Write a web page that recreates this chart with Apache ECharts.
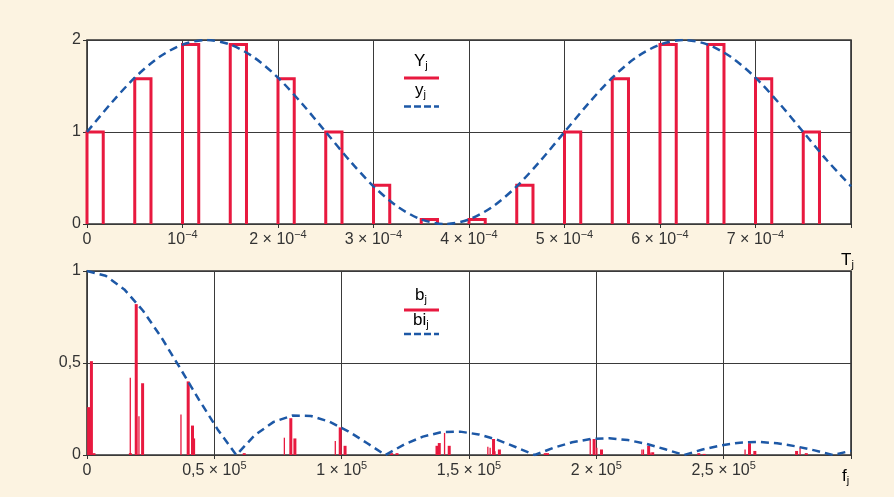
<!DOCTYPE html>
<html>
<head>
<meta charset="utf-8">
<script src="https://cdn.jsdelivr.net/npm/echarts@6/dist/echarts.min.js"></script>
<style>
  html, body { margin: 0; padding: 0; background: #fcf3e1; }
  #chart { width: 894px; height: 497px; }
</style>
</head>
<body>
<div id="chart"></div>
<script>
// ---- top panel: sampled signal (time in units of 1e-4 s) ----
const sampleT = [0, 0.5, 1, 1.5, 2, 2.5, 3, 3.5, 4, 4.5, 5, 5.5, 6, 6.5, 7, 7.5];
const sampleY = [1, 1.58, 1.95, 1.95, 1.58, 1, 0.42, 0.05, 0.05, 0.42, 1, 1.58, 1.95, 1.95, 1.58, 1];
const holdWidth = 0.17;
const curveT = [0, 0.25, 0.5, 0.75, 1, 1.25, 1.5, 1.75, 2, 2.25, 2.5, 2.75, 3, 3.25, 3.5, 3.75, 4,
  4.25, 4.5, 4.75, 5, 5.25, 5.5, 5.75, 6, 6.25, 6.5, 6.75, 7, 7.25, 7.5, 7.75, 8];
const curveY = [1, 1.31, 1.59, 1.81, 1.95, 2, 1.95, 1.81, 1.59, 1.31, 1, 0.69, 0.41, 0.19, 0.05, 0, 0.05,
  0.19, 0.41, 0.69, 1, 1.31, 1.59, 1.81, 1.95, 2, 1.95, 1.81, 1.59, 1.31, 1, 0.69, 0.41];
const topTicks = [0, 1, 2, 3, 4, 5, 6, 7];

// ---- bottom panel: spectrum (frequency in kHz) ----
const specF = [0.3, 1.4, 2.4, 16.7, 19.0, 21.5, 39.4, 41.1, 61.4, 79.7, 81.3, 99.1, 101.0,
  119.3, 121.4, 137.1, 138.0, 141.9, 159.3, 161.6, 179.6, 180.5, 198.8, 201.7, 220.2, 221.8,
  239.9, 242.0, 259.8, 261.9, 278.3, 282.1];
const specB = [0.26, 0.51, 0.01, 0.01, 0.82, 0.39, 0.40, 0.16, 0.01, 0.20, 0.09, 0.15, 0.05,
  0.01, 0.01, 0.05, 0.065, 0.05, 0.087, 0.03, 0.01, 0.01, 0.087, 0.03, 0.05, 0.015,
  0.01, 0.006, 0.064, 0.022, 0.022, 0.01];
const thinF = [17.0, 20.4, 36.9, 42.2, 77.5, 97.5, 140.4, 157.4, 158.3, 160.2, 197.6, 200.2,
  217.9, 218.5, 221.1, 258.4, 280.0];
const thinB = [0.42, 0.21, 0.22, 0.09, 0.094, 0.076, 0.12, 0.045, 0.04, 0.02, 0.087, 0.04,
  0.03, 0.03, 0.013, 0.03, 0.04];
const envF = [0, 7.3, 14.65, 22.0, 29.3, 36.6, 44.0, 51.3, 58.6, 65.9, 73.3, 80.6, 87.9, 95.2,
  102.6, 109.9, 117.2, 124.5, 131.9, 139.2, 146.5, 153.8, 161.2, 168.5, 175.8, 183.1, 190.5,
  197.8, 205.1, 212.4, 219.8, 227.1, 234.4, 241.7, 249.1, 256.4, 263.7, 271.0, 278.4, 285.7,
  293.0, 300];
const envB = [1, 0.974, 0.900, 0.784, 0.637, 0.471, 0.300, 0.139, 0, 0.108, 0.180, 0.214, 0.212,
  0.181, 0.129, 0.065, 0, 0.057, 0.100, 0.124, 0.127, 0.112, 0.082, 0.042, 0, 0.039, 0.069,
  0.087, 0.091, 0.081, 0.060, 0.031, 0, 0.030, 0.053, 0.067, 0.071, 0.064, 0.047, 0.025, 0,
  0.023];
const botTicks = ["0", "0,5", "1", "1,5", "2", "2,5"];

const RED = "#e8193f";
const BLUE = "#1d58a6";
const INK = "#333";
const FONT = "'Liberation Sans', Arial, sans-serif";

const zip = (a, b) => a.map((v, i) => [v, b[i]]);

const richNum = {
  n: { fontSize: 16, color: INK, fontFamily: FONT, lineHeight: 22 },
  s: { fontSize: 11, color: INK, fontFamily: FONT, lineHeight: 10, verticalAlign: "top" },
  b: { fontSize: 17, color: INK, fontFamily: FONT, lineHeight: 19 },
  j: { fontSize: 11, color: INK, fontFamily: FONT, lineHeight: 8, verticalAlign: "bottom" },
};

const gridStyle = { show: true, lineStyle: { color: "#3a3a3a", width: 1 } };

const chart = echarts.init(document.getElementById("chart"), null, { renderer: "canvas" });

chart.setOption({
  backgroundColor: "#fcf3e1",
  animation: false,
  grid: [
    { left: 87, right: 43, top: 40, height: 184, show: true, backgroundColor: "#fff",
      borderColor: INK, borderWidth: 1.6 },
    { left: 87, right: 43, top: 271, height: 184, show: true, backgroundColor: "#fff",
      borderColor: INK, borderWidth: 1.6 },
  ],
  xAxis: [
    {
      type: "value", gridIndex: 0, min: 0, max: 8, interval: 1,
      axisLine: { show: false }, splitLine: gridStyle,
      axisTick: { show: true, length: 4, lineStyle: { color: INK } },
      axisLabel: {
        margin: 5, rich: richNum,
        formatter: (v) => {
          if (!topTicks.includes(v)) return "";
          if (v === 0) return "{n|0}";
          if (v === 1) return "{n|10}{s|−4}";
          return "{n|" + v + " × 10}{s|−4}";
        },
      },
    },
    {
      type: "value", gridIndex: 1, min: 0, max: 300, interval: 50,
      axisLine: { show: false }, splitLine: gridStyle,
      axisTick: { show: true, length: 4, lineStyle: { color: INK } },
      axisLabel: {
        margin: 5, rich: richNum,
        formatter: (v) => {
          const t = botTicks[v / 50];
          if (t === undefined) return "";
          if (t === "0") return "{n|0}";
          return "{n|" + t + " × 10}{s|5}";
        },
      },
    },
  ],
  yAxis: [
    {
      type: "value", gridIndex: 0, min: 0, max: 2, interval: 1,
      axisLine: { show: false }, splitLine: gridStyle,
      axisTick: { show: true, length: 4, lineStyle: { color: INK } },
      axisLabel: { margin: 6, fontSize: 16, color: INK, fontFamily: FONT },
    },
    {
      type: "value", gridIndex: 1, min: 0, max: 1, interval: 0.5,
      axisLine: { show: false }, splitLine: gridStyle,
      axisTick: { show: true, length: 4, lineStyle: { color: INK } },
      axisLabel: { margin: 6, fontSize: 16, color: INK, fontFamily: FONT,
        formatter: (v) => String(v).replace(".", ",") },
    },
  ],
  series: [
    {
      name: "Y_j", type: "custom", xAxisIndex: 0, yAxisIndex: 0,
      data: zip(sampleT, sampleY),
      renderItem: (params, api) => {
        const t = api.value(0), h = api.value(1);
        const pts = [
          api.coord([t, 0]), api.coord([t, h]),
          api.coord([t + holdWidth, h]), api.coord([t + holdWidth, 0]),
        ];
        return {
          type: "polyline",
          shape: { points: pts },
          style: { fill: null, stroke: RED, lineWidth: 3, lineJoin: "miter" },
        };
      },
      z: 3,
    },
    {
      name: "y_j", type: "line", xAxisIndex: 0, yAxisIndex: 0,
      data: zip(curveT, curveY), smooth: 0.3, showSymbol: false,
      lineStyle: { color: BLUE, width: 2.5, type: [8, 5] }, z: 4,
    },
    {
      name: "b_j", type: "bar", xAxisIndex: 1, yAxisIndex: 1,
      data: zip(specF, specB), barWidth: 3, barGap: "-100%",
      itemStyle: { color: RED }, z: 3,
    },
    {
      name: "b_j thin", type: "bar", xAxisIndex: 1, yAxisIndex: 1,
      data: zip(thinF, thinB), barWidth: 1.3, barGap: "-100%",
      itemStyle: { color: RED }, z: 3,
    },
    {
      name: "bi_j", type: "line", xAxisIndex: 1, yAxisIndex: 1,
      data: zip(envF, envB), showSymbol: false,
      lineStyle: { color: BLUE, width: 2.5, type: [8, 5] }, z: 4,
    },
  ],
  graphic: [
    // top legend
    { type: "text", left: 414, top: 53, style: { text: "{b|Y}{j|j}", rich: richNum } },
    { type: "line", shape: { x1: 404, y1: 78, x2: 439, y2: 78 },
      style: { stroke: RED, lineWidth: 3 } },
    { type: "text", left: 415, top: 82, style: { text: "{b|y}{j|j}", rich: richNum } },
    { type: "line", shape: { x1: 404, y1: 106.5, x2: 439, y2: 106.5 },
      style: { stroke: BLUE, lineWidth: 2.5, lineDash: [7, 3] } },
    // bottom legend
    { type: "text", left: 415, top: 287, style: { text: "{b|b}{j|j}", rich: richNum } },
    { type: "line", shape: { x1: 404, y1: 310, x2: 439, y2: 310 },
      style: { stroke: RED, lineWidth: 3 } },
    { type: "text", left: 413, top: 312, style: { text: "{b|bi}{j|j}", rich: richNum } },
    { type: "line", shape: { x1: 404, y1: 334, x2: 439, y2: 334 },
      style: { stroke: BLUE, lineWidth: 2.5, lineDash: [7, 3] } },
    // axis names
    { type: "text", left: 841, top: 252, style: { text: "{b|T}{j|j}", rich: richNum } },
    { type: "text", left: 842, top: 468, style: { text: "{b|f}{j|j}", rich: richNum } },
  ],
});
</script>
</body>
</html>
